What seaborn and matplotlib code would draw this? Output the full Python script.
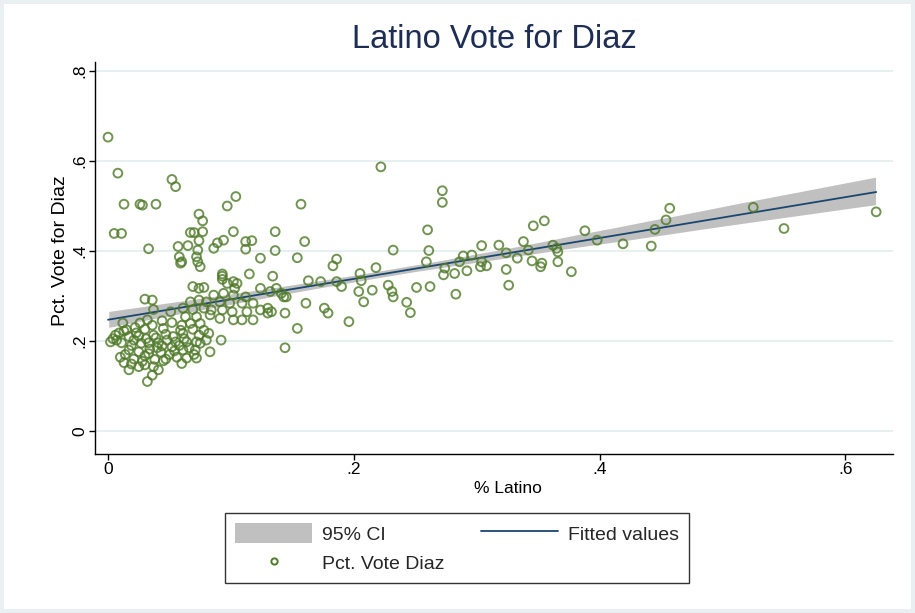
import matplotlib
matplotlib.use("Agg")
import matplotlib.pyplot as plt
import seaborn as sns
import pandas as pd
from matplotlib.patches import Patch, Rectangle
from matplotlib.lines import Line2D
from matplotlib.collections import PolyCollection

# Share of Latino residents and share of the vote won by Diaz, one entry per precinct
pct_latino = [
    0.000, 0.008, 0.052, 0.055, 0.013, 0.026, 0.028, 0.039, 0.005, 0.011,
    0.033, 0.097, 0.104, 0.074, 0.077, 0.067, 0.070, 0.077, 0.074, 0.057,
    0.065, 0.073, 0.072, 0.058, 0.059, 0.073, 0.075, 0.086, 0.089, 0.094,
    0.102, 0.112, 0.117, 0.112, 0.124, 0.136, 0.136, 0.060,
    0.115, 0.134, 0.093, 0.093, 0.097, 0.105, 0.103, 0.069, 0.074, 0.030,
    0.036, 0.124, 0.132, 0.143, 0.102, 0.078, 0.093,
    0.086, 0.094, 0.102, 0.112, 0.067, 0.074, 0.080, 0.091, 0.099, 0.109,
    0.118, 0.061, 0.069, 0.078, 0.084, 0.093, 0.101, 0.113, 0.124, 0.130,
    0.063, 0.072, 0.083, 0.091, 0.102, 0.109, 0.118, 0.037, 0.051, 0.032,
    0.052,
    0.067, 0.075, 0.069, 0.078, 0.074, 0.082, 0.061, 0.064, 0.072, 0.080,
    0.092, 0.061, 0.071, 0.083, 0.064, 0.072, 0.060,
    0.013, 0.022, 0.030, 0.045, 0.059, 0.006, 0.002, 0.007, 0.011, 0.017,
    0.025, 0.021, 0.037, 0.033, 0.041, 0.048, 0.055, 0.044, 0.052, 0.017,
    0.025, 0.010, 0.030, 0.038, 0.045, 0.056, 0.013, 0.019, 0.025, 0.037,
    0.017, 0.030, 0.041, 0.036, 0.032,
    0.004, 0.009, 0.015, 0.019, 0.023, 0.027, 0.031, 0.034, 0.039, 0.043,
    0.047, 0.050, 0.053, 0.058, 0.062, 0.066, 0.070, 0.075, 0.014, 0.021,
    0.028, 0.033, 0.040, 0.047, 0.054, 0.060, 0.026, 0.044, 0.012, 0.036,
    0.222, 0.157, 0.160, 0.154, 0.232, 0.186, 0.183, 0.218, 0.163, 0.173,
    0.186, 0.190, 0.205, 0.206, 0.204, 0.215, 0.208, 0.228, 0.231, 0.232,
    0.137, 0.141, 0.145, 0.161, 0.176, 0.179, 0.196, 0.154, 0.144, 0.130,
    0.144, 0.133,
    0.272, 0.272, 0.260, 0.261, 0.259, 0.346, 0.355, 0.388, 0.338, 0.362,
    0.365, 0.366, 0.304, 0.318, 0.324, 0.342, 0.289, 0.296, 0.286, 0.304,
    0.303, 0.308, 0.333, 0.345, 0.353, 0.352, 0.366, 0.377, 0.324, 0.274,
    0.273, 0.282, 0.292, 0.326, 0.251, 0.262, 0.283, 0.243, 0.246, 0.398,
    0.419, 0.442, 0.445, 0.454, 0.457, 0.525, 0.550, 0.625,
]
pct_vote_diaz = [
    0.653, 0.573, 0.559, 0.543, 0.504, 0.504, 0.502, 0.504, 0.439, 0.439,
    0.405, 0.500, 0.521, 0.482, 0.467, 0.441, 0.441, 0.443, 0.423, 0.410,
    0.412, 0.402, 0.387, 0.387, 0.373, 0.376, 0.365, 0.406, 0.418, 0.424,
    0.443, 0.421, 0.423, 0.404, 0.384, 0.443, 0.401, 0.376,
    0.349, 0.344, 0.344, 0.337, 0.328, 0.328, 0.317, 0.321, 0.317, 0.293,
    0.291, 0.317, 0.310, 0.298, 0.332, 0.319, 0.349,
    0.302, 0.306, 0.302, 0.298, 0.287, 0.291, 0.287, 0.287, 0.284, 0.284,
    0.284, 0.273, 0.270, 0.273, 0.269, 0.269, 0.265, 0.265, 0.269, 0.273,
    0.254, 0.254, 0.258, 0.250, 0.247, 0.247, 0.247, 0.270, 0.265, 0.247,
    0.241,
    0.239, 0.239, 0.226, 0.224, 0.213, 0.217, 0.217, 0.198, 0.198, 0.202,
    0.202, 0.180, 0.180, 0.176, 0.162, 0.162, 0.150,
    0.222, 0.230, 0.226, 0.228, 0.224, 0.213, 0.198, 0.202, 0.196, 0.210,
    0.211, 0.202, 0.213, 0.196, 0.196, 0.202, 0.198, 0.189, 0.187, 0.180,
    0.176, 0.164, 0.167, 0.159, 0.156, 0.164, 0.152, 0.149, 0.143, 0.143,
    0.136, 0.147, 0.136, 0.124, 0.110,
    0.205, 0.218, 0.225, 0.190, 0.218, 0.195, 0.205, 0.182, 0.207, 0.175,
    0.215, 0.170, 0.210, 0.190, 0.205, 0.185, 0.170, 0.195, 0.170, 0.160,
    0.155, 0.172, 0.185, 0.160, 0.178, 0.235, 0.240, 0.245, 0.240, 0.235,
    0.587, 0.504, 0.421, 0.385, 0.402, 0.382, 0.367, 0.363, 0.334, 0.332,
    0.332, 0.321, 0.350, 0.334, 0.310, 0.313, 0.287, 0.324, 0.310, 0.298,
    0.317, 0.306, 0.298, 0.284, 0.273, 0.262, 0.243, 0.228, 0.185, 0.262,
    0.262, 0.265,
    0.534, 0.508, 0.447, 0.401, 0.376, 0.456, 0.467, 0.445, 0.421, 0.413,
    0.406, 0.398, 0.412, 0.413, 0.396, 0.402, 0.389, 0.391, 0.376, 0.376,
    0.365, 0.367, 0.384, 0.378, 0.373, 0.365, 0.376, 0.354, 0.359, 0.362,
    0.347, 0.350, 0.356, 0.324, 0.319, 0.321, 0.304, 0.286, 0.263, 0.424,
    0.416, 0.411, 0.448, 0.469, 0.495, 0.497, 0.450, 0.487,
]

x_ticks = [0, 0.2, 0.4, 0.6]
x_tick_labels = ["0", ".2", ".4", ".6"]
y_ticks = [0, 0.2, 0.4, 0.6, 0.8]
y_tick_labels = ["0", ".2", ".4", ".6", ".8"]

df = pd.DataFrame({"latino": pct_latino, "diaz": pct_vote_diaz})

sns.set_theme(style="ticks")
plt.rcParams["font.family"] = ["Liberation Sans", "DejaVu Sans"]

GREEN = "#4f7a28"
NAVY = "#1a476f"
CI_GREY = "#c0c0c0"
TITLE_NAVY = "#1e2d53"

fig = plt.figure(figsize=(9.15, 6.13), dpi=100, facecolor="#eaf0f1")
fig.patches.append(Rectangle((4 / 915, 4 / 613), 907 / 915, 605 / 613,
                             transform=fig.transFigure, facecolor="white",
                             edgecolor="none", zorder=-10))
ax = fig.add_axes([95 / 915, 1 - 454 / 613, 798 / 915, 392 / 613])

sns.regplot(
    data=df, x="latino", y="diaz", ax=ax, ci=95, n_boot=1000, seed=7,
    color=NAVY,
    scatter_kws=dict(s=40, facecolors="none", edgecolors=GREEN,
                     linewidths=1.4, zorder=4),
    line_kws=dict(lw=1.3, zorder=3),
)
for coll in ax.collections:
    if isinstance(coll, PolyCollection):
        coll.set_facecolor(CI_GREY)
        coll.set_alpha(1.0)
        coll.set_zorder(2)

ax.set_xlim(-0.0106, 0.6387)
ax.set_ylim(-0.0511, 0.82)
ax.set_xticks(x_ticks)
ax.set_xticklabels(x_tick_labels)
ax.set_yticks(y_ticks)
ax.set_yticklabels(y_tick_labels, rotation=90, va="center")
ax.tick_params(direction="out", length=4, width=1, colors="black",
               labelsize=12.5, pad=1.5)
ax.yaxis.grid(True, color="#e3edef", lw=1.2)
ax.set_axisbelow(True)
sns.despine(ax=ax)
for side in ("left", "bottom"):
    ax.spines[side].set_color("black")
    ax.spines[side].set_linewidth(1.0)

ax.set_title("Latino Vote for Diaz", fontsize=23.5, color=TITLE_NAVY, pad=10)
ax.set_xlabel("% Latino", fontsize=12.5, color="black")
ax.set_ylabel("Pct. Vote for Diaz", fontsize=14, color="black")
ax.xaxis.set_label_coords((508 - 95) / 798, -0.07)
ax.yaxis.set_label_coords((69 - 95) / 798, 0.52)

handles = [
    Patch(facecolor=CI_GREY, edgecolor="none"),
    Line2D([], [], marker="o", ls="none", markersize=4.5,
           markerfacecolor="none", markeredgecolor=GREEN, markeredgewidth=1.4),
    Line2D([], [], color=NAVY, lw=1.3),
]
labels = ["95% CI", "Pct. Vote Diaz", "Fitted values"]
leg = fig.legend(handles, labels, ncol=2, loc="center",
                 bbox_to_anchor=(457 / 915, 1 - 548 / 613), frameon=True,
                 fancybox=False, edgecolor="black", fontsize=14,
                 handlelength=3.96, handleheight=1.2, handletextpad=0.5,
                 columnspacing=1.9, labelspacing=0.45, borderpad=0.5)
leg.get_frame().set_linewidth(1.0)

fig.savefig("out.png", dpi=100, facecolor=fig.get_facecolor())
